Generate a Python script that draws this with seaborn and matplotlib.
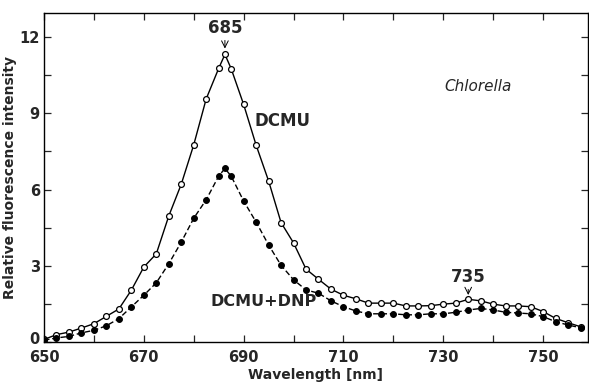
import matplotlib
matplotlib.use("Agg")
import matplotlib.pyplot as plt
import matplotlib.transforms as mtransforms
import seaborn as sns
import pandas as pd
from matplotlib.ticker import MultipleLocator

# Data
wavelength = [650, 652.5, 655, 657.5, 660, 662.5, 665, 667.5, 670, 672.5, 675, 677.5,
              680, 682.5, 685, 686.25, 687.5, 690, 692.5, 695, 697.5, 700, 702.5, 705,
              707.5, 710, 712.5, 715, 717.5, 720, 722.5, 725, 727.5, 730, 732.5, 735,
              737.5, 740, 742.5, 745, 747.5, 750, 752.5, 755, 757.5]
dcmu = [0.10, 0.29, 0.39, 0.55, 0.72, 1.01, 1.30, 2.04, 2.95, 3.47, 4.96, 6.21,
        7.76, 9.57, 10.77, 11.32, 10.76, 9.35, 7.75, 6.34, 4.70, 3.90, 2.87, 2.47,
        2.08, 1.84, 1.70, 1.53, 1.53, 1.53, 1.42, 1.42, 1.43, 1.49, 1.53, 1.68,
        1.62, 1.49, 1.42, 1.42, 1.39, 1.20, 0.93, 0.76, 0.60]
dcmu_dnp = [0.07, 0.16, 0.22, 0.36, 0.46, 0.64, 0.92, 1.38, 1.84, 2.33, 3.08, 3.93,
            4.87, 5.60, 6.53, 6.83, 6.53, 5.55, 4.72, 3.82, 3.02, 2.45, 2.05, 1.92,
            1.62, 1.39, 1.22, 1.11, 1.11, 1.11, 1.07, 1.07, 1.11, 1.11, 1.17, 1.26,
            1.32, 1.26, 1.17, 1.14, 1.11, 1.00, 0.80, 0.67, 0.56]
x_ticks = [650, 670, 690, 710, 730, 750]
y_ticks = [0, 3, 6, 9, 12]

df = pd.DataFrame({"wavelength": wavelength, "DCMU": dcmu, "DCMU+DNP": dcmu_dnp})

sns.set_style("ticks")
plt.rcParams['font.family'] = ['DejaVu Sans']

fig = plt.figure(figsize=(5.89, 3.84), dpi=100)
ax = fig.add_axes([44/589, 42/384, 544/589, 329/384])

sns.lineplot(data=df, x="wavelength", y="DCMU", ax=ax, color="black", lw=1.0,
             marker="o", markersize=4.2, markerfacecolor="white",
             markeredgecolor="black", markeredgewidth=0.9)
sns.lineplot(data=df, x="wavelength", y="DCMU+DNP", ax=ax, color="black", lw=1.0,
             marker="o", markersize=4.2, markerfacecolor="black",
             markeredgecolor="black", dashes=False, linestyle=(0, (4, 2)))

ax.set_xlim(650, 759)
ax.set_ylim(0, 12.95)
ax.set_xticks(x_ticks)
ax.set_yticks(y_ticks)
ax.xaxis.set_minor_locator(MultipleLocator(10))
ax.yaxis.set_minor_locator(MultipleLocator(1.5))
ax.tick_params(which="both", direction="in", top=True, right=True, length=5,
               width=0.9, labelsize=10.5, pad=3)
ax.tick_params(axis="x", pad=6)
for lab in ax.get_xticklabels() + ax.get_yticklabels():
    lab.set_fontweight("bold")
# nudge the "0" y tick label up a little so it clears the "650" label
zero_lab = ax.get_yticklabels()[0]
zero_lab.set_transform(zero_lab.get_transform() +
                       mtransforms.ScaledTranslation(0, 3/72, fig.dpi_scale_trans))
for s in ax.spines.values():
    s.set_linewidth(1.0)
    s.set_color("black")

ax.set_xlabel("Wavelength [nm]", fontsize=10, labelpad=2, fontweight="bold")
ax.set_ylabel("Relative fluorescence intensity", fontsize=10, labelpad=2,
              fontweight="bold")

ax.annotate("685", xy=(686.25, 11.55), xytext=(686.25, 12.0), ha="center", va="bottom",
            fontsize=12, fontweight="bold",
            arrowprops=dict(arrowstyle="->", lw=0.7, color="black",
                            shrinkA=0, shrinkB=0))
ax.annotate("735", xy=(735, 1.85), xytext=(735, 2.2), ha="center", va="bottom",
            fontsize=12, fontweight="bold",
            arrowprops=dict(arrowstyle="->", lw=0.7, color="black",
                            shrinkA=0, shrinkB=0))
ax.text(697.8, 8.7, "DCMU", ha="center", va="center", fontsize=12, fontweight="bold")
ax.text(694, 1.58, "DCMU+DNP", ha="center", va="center", fontsize=11.5,
        fontweight="bold")
ax.text(737, 10.05, "Chlorella", ha="center", va="center", fontsize=11, style="italic")

fig.savefig("out.png", dpi=100)
